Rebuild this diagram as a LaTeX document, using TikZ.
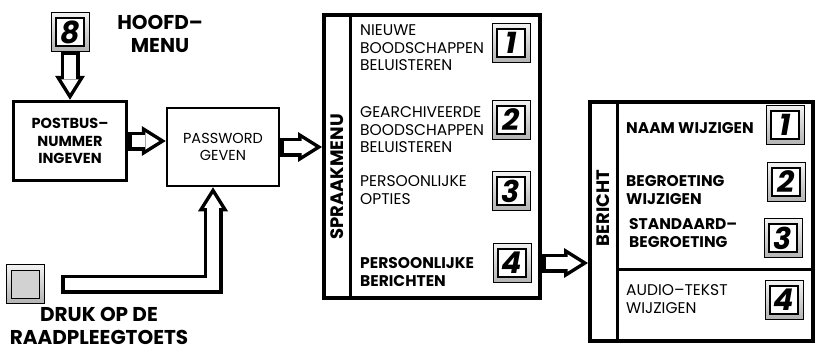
\documentclass[tikz,border=0pt]{standalone}
\usepackage{fontspec}
\setmainfont{Poppins}
\usetikzlibrary{arrows.meta,positioning,calc}

\begin{document}
\begin{tikzpicture}[x=1pt,y=-1pt,
    txt/.style={font=\fontsize{15.5}{17.5}\selectfont,align=left,inner sep=0pt},
    txtb/.style={txt,font=\fontsize{15.5}{17.5}\selectfont\bfseries},
    blok/.style={rectangle,draw,line width=3pt,align=center,inner sep=0pt},
    kap/.style={rectangle,draw,line width=0.6pt,top color=gray!10,bottom color=gray!60,
      minimum width=38pt,minimum height=39pt,inner sep=0pt},
    toetsin/.style={rectangle,draw,line width=2pt,fill=white,minimum size=28pt,inner sep=0pt,
      font=\fontsize{30}{30}\selectfont\bfseries\itshape},
    toets/.style={kap,label={[toetsin]center:#1}},
    grijs/.style={kap,label={[toetsin,fill=gray!35,line width=0.8pt]center:{}}},
    hol/.style={draw=white,line width=12pt,shorten <=3.5pt,shorten >=6.6pt,
      -{Triangle[width=17.4pt,length=13.9pt,line width=0pt]},
      preaction={draw=black,line width=19pt,shorten <=0pt,shorten >=0pt,
        -{Triangle[width=30pt,length=24pt,line width=0pt]}}}]
    \useasboundingbox (0,0) rectangle (817,351);
    % hoofdmenu
    \node[toets=8] (k8) at (70,32) {};
    \node[font=\fontsize{20}{23}\selectfont\bfseries,align=center] (hm) at (160,34) {HOOFD--\\MENU};
    \node[blok,line width=3.5pt,minimum width=113pt,minimum height=79pt,
      font=\fontsize{14.5}{17.5}\selectfont\bfseries] (pb) at (70,141) {POSTBUS--\\NUMMER\\INGEVEN};
    \node[blok,line width=2.5pt,minimum width=112pt,minimum height=78pt,
      font=\fontsize{14.5}{17.5}\selectfont] (pw) at (223,147) {PASSWORD\\GEVEN};
    \node[grijs] (rk) at (25,284) {};
    \node[font=\fontsize{20}{23}\selectfont\bfseries,align=center] (druk) at (99,326) {DRUK OP DE\\RAADPLEEGTOETS};
    % spraakmenu
    \node[blok,line width=4pt,minimum width=216pt,minimum height=283pt] (sm) at (432,156.5) {};
    \draw[line width=3pt] ([xshift=28pt]sm.north west) -- ([xshift=28pt]sm.south west);
    \node[rotate=90,font=\fontsize{18}{18}\selectfont\bfseries] (smt) at (337,177) {SPRAAKMENU};
    \node[txt,anchor=west] (t1) at (360,48) {NIEUWE\\BOODSCHAPPEN\\BELUISTEREN};
    \node[txt,anchor=west] (t2) at (360,130) {GEARCHIVEERDE\\BOODSCHAPPEN\\BELUISTEREN};
    \node[txt,anchor=west] (t3) at (360,190) {PERSOONLIJKE\\OPTIES};
    \node[txtb,anchor=west] (t4) at (360,272) {PERSOONLIJKE\\BERICHTEN};
    \node[toets=1] (s1) at (511,43) {};
    \node[toets=2] (s2) at (511,120) {};
    \node[toets=3] (s3) at (511,191) {};
    \node[toets=4] (s4) at (512,263) {};
    % bericht
    \node[blok,line width=4pt,minimum width=223pt,minimum height=239pt] (be) at (701.5,221.5) {};
    \draw[line width=3pt] ([xshift=29pt]be.north west) -- ([xshift=29pt]be.south west);
    \coordinate (sep) at (619,269);
    \draw[line width=3pt] (sep) -- (sep -| be.east);
    \node[rotate=90,font=\fontsize{18}{18}\selectfont\bfseries] (bet) at (603,208) {BERICHT};
    \node[txtb,anchor=west] (b1t) at (626,128) {NAAM WIJZIGEN};
    \node[txtb,anchor=west] (b2t) at (626,190) {BEGROETING\\WIJZIGEN};
    \node[txtb,anchor=west] (b3t) at (629,233) {STANDAARD--\\BEGROETING};
    \node[txt,anchor=west] (b4t) at (626,299) {AUDIO--TEKST\\WIJZIGEN};
    \node[toets=1] (m1) at (785,125) {};
    \node[toets=2] (m2) at (786,182) {};
    \node[toets=3] (m3) at (783,238) {};
    \node[toets=4] (m4) at (784,300) {};
    % pijlen
    \draw[hol] (k8.south) -- (pb.north);
    \draw[hol] (pb.east) -- (pb.east -| pw.west);
    \draw[hol] (pw.east) -- (pw.east -| sm.west);
    \coordinate (start) at ([xshift=17pt]rk.east);
    \coordinate (bend) at ([xshift=-10pt]pw.south |- rk.east);
    \draw[hol] (start) -- (bend) -- ([xshift=-10pt]pw.south);
    \draw[hol] (s4.east -| sm.east) -- (s4.east -| be.west);
\end{tikzpicture}
\end{document}
